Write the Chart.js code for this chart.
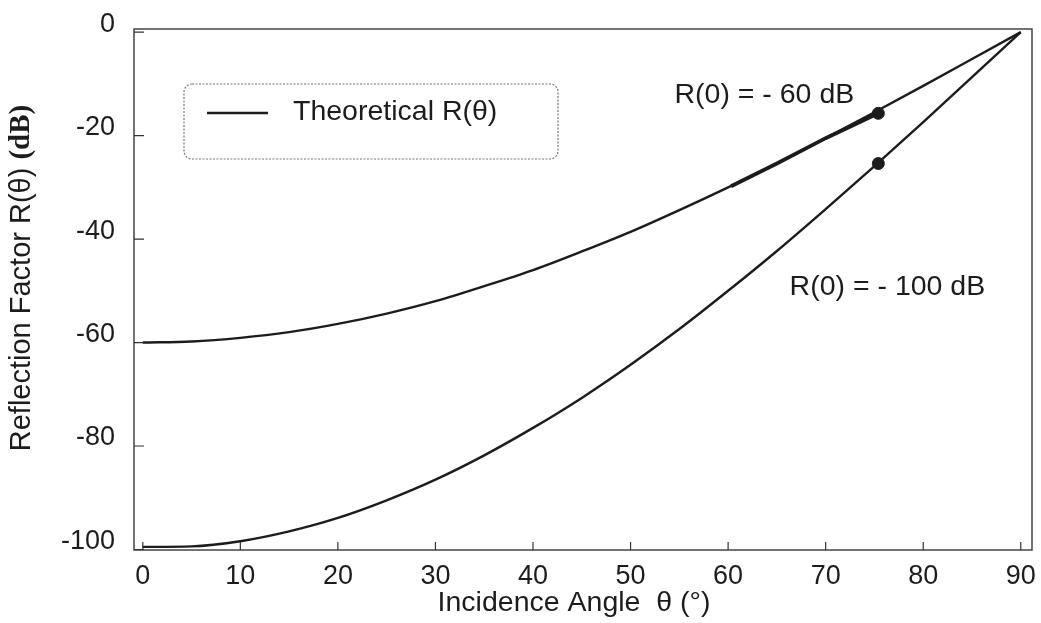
<!DOCTYPE html>
<html>
<head>
<meta charset="utf-8">
<script src="https://cdn.jsdelivr.net/npm/chart.js@4.4.0/dist/chart.umd.min.js"></script>
<style>
  body { margin: 0; background: #fff; }
  #wrap { width: 1041px; height: 623px; position: relative; }
</style>
</head>
<body>
<div id="wrap"><canvas id="reflChart"></canvas></div>
<script>
// ==========================================
// DATA
// ==========================================
const angles = [0, 5, 10, 15, 20, 25, 30, 35, 40, 45, 50, 55, 60, 65, 70, 75, 80, 85, 90];
const upperDb = [-60, -59.8, -59.1, -58.0, -56.4, -54.4, -52.0, -49.1, -46.0, -42.4, -38.6, -34.4, -30.0, -25.4, -20.5, -15.5, -10.4, -5.2, 0];
const lowerDb = [-99.5, -99.4, -98.4, -96.5, -93.9, -90.5, -86.5, -81.8, -76.5, -70.7, -64.3, -57.4, -50.0, -42.3, -34.2, -25.9, -17.4, -8.7, 0];

// thicker stretch on the -60 dB curve
const thickAngles = [60.3, 65, 70, 75.4];
const thickDb = [-29.8, -25.4, -20.5, -15.7];

// the two filled dots
const dotAngles = [75.4, 75.4];
const dotDb = [-15.7, -25.4];

const xTicks = [0, 10, 20, 30, 40, 50, 60, 70, 80, 90];
const yTicks = [0, -20, -40, -60, -80, -100];

const INK = '#1c1c1c';
const SANS = "'Liberation Sans', Arial, Helvetica, sans-serif";
const SERIF_BOLD = "bold 29px 'Liberation Serif', 'Times New Roman', serif";

const toPoints = (xs, ys) => xs.map((x, i) => ({ x: x, y: ys[i] }));

// ==========================================
// DECORATION PLUGIN (frame, inward ticks, legend, labels)
// ==========================================
const figurePlugin = {
    id: 'figure',
    afterDraw(chart) {
        const ctx = chart.ctx;
        const a = chart.chartArea;
        const xs = chart.scales.x;
        const ys = chart.scales.y;

        ctx.save();

        // frame
        ctx.strokeStyle = '#444';
        ctx.lineWidth = 1.5;
        ctx.strokeRect(a.left, a.top, a.right - a.left, a.bottom - a.top);

        // inward tick marks
        ctx.strokeStyle = '#333';
        ctx.lineWidth = 1.2;
        ctx.beginPath();
        xTicks.forEach(v => {
            const px = xs.getPixelForValue(v);
            ctx.moveTo(px, a.bottom);
            ctx.lineTo(px, a.bottom - 8);
        });
        yTicks.forEach(v => {
            const py = ys.getPixelForValue(v);
            ctx.moveTo(a.left, py);
            ctx.lineTo(a.left + 10, py);
        });
        ctx.stroke();

        // legend box
        const bx = 184, by = 84, bw = 374, bh = 75, r = 8;
        ctx.strokeStyle = '#777';
        ctx.lineWidth = 1.2;
        ctx.setLineDash([2, 1.5]);
        ctx.beginPath();
        ctx.roundRect(bx, by, bw, bh, r);
        ctx.stroke();
        ctx.setLineDash([]);

        ctx.strokeStyle = INK;
        ctx.lineWidth = 2.5;
        ctx.beginPath();
        ctx.moveTo(207, 113);
        ctx.lineTo(268, 113);
        ctx.stroke();

        ctx.fillStyle = INK;
        ctx.font = '28.5px ' + SANS;
        ctx.textAlign = 'left';
        ctx.textBaseline = 'middle';
        ctx.fillText('Theoretical R(\u03b8)', 293, 112);

        // curve annotations
        ctx.fillText('R(0) = - 60 dB', xs.getPixelForValue(54.5), ys.getPixelForValue(-12.2));
        ctx.fillText('R(0) = - 100 dB', xs.getPixelForValue(66.3), ys.getPixelForValue(-49.2));

        // x axis title
        ctx.textAlign = 'center';
        ctx.fillText('Incidence Angle  \u03b8 (\u00b0)', 574, 603);

        // y axis title (mixed fonts)
        ctx.translate(22, 278);
        ctx.rotate(-Math.PI / 2);
        const part1 = 'Reflection Factor R(\u03b8) ';
        const part2 = '(dB)';
        ctx.font = '29px ' + SANS;
        const w1 = ctx.measureText(part1).width;
        ctx.font = SERIF_BOLD;
        const w2 = ctx.measureText(part2).width;
        const start = -(w1 + w2) / 2;
        ctx.textAlign = 'left';
        ctx.font = '29px ' + SANS;
        ctx.fillText(part1, start, 0);
        ctx.font = SERIF_BOLD;
        ctx.fillText(part2, start + w1, 0);

        ctx.restore();
    }
};

// ==========================================
// CHART
// ==========================================
function initReflectionChart() {
    const canvas = document.getElementById('reflChart');
    if (!canvas) return;

    new Chart(canvas, {
        type: 'line',
        data: {
            datasets: [
                {
                    label: 'R(0) = -60 dB',
                    data: toPoints(angles, upperDb),
                    borderColor: INK,
                    borderWidth: 2.4,
                    pointRadius: 0,
                    cubicInterpolationMode: 'monotone',
                    fill: false
                },
                {
                    label: 'R(0) = -100 dB',
                    data: toPoints(angles, lowerDb),
                    borderColor: INK,
                    borderWidth: 2.4,
                    pointRadius: 0,
                    cubicInterpolationMode: 'monotone',
                    fill: false
                },
                {
                    label: 'thick',
                    data: toPoints(thickAngles, thickDb),
                    borderColor: INK,
                    borderWidth: 3.8,
                    pointRadius: 0,
                    fill: false
                },
                {
                    label: 'dots',
                    data: toPoints(dotAngles, dotDb),
                    showLine: false,
                    pointRadius: 6,
                    pointBackgroundColor: INK,
                    pointBorderColor: INK
                }
            ]
        },
        options: {
            responsive: true,
            maintainAspectRatio: false,
            animation: false,
            layout: {
                padding: { top: 29, right: 9, left: 0, bottom: 0 }
            },
            plugins: {
                legend: { display: false },
                tooltip: { enabled: false }
            },
            scales: {
                x: {
                    type: 'linear',
                    min: -0.9,
                    max: 91.15,
                    grid: { display: false, drawTicks: false },
                    border: { display: false },
                    afterBuildTicks: s => { s.ticks = xTicks.map(v => ({ value: v })); },
                    afterFit: s => {
                        s.height = 73;
                        s.paddingLeft = 0;
                        s.paddingRight = 0;
                    },
                    ticks: {
                        color: INK,
                        font: { family: SANS, size: 27 },
                        padding: 10,
                        maxRotation: 0,
                        autoSkip: false
                    }
                },
                y: {
                    type: 'linear',
                    min: -100.1,
                    max: 0.6,
                    grid: { display: false, drawTicks: false },
                    border: { display: false },
                    afterBuildTicks: s => { s.ticks = yTicks.map(v => ({ value: v })); },
                    afterFit: s => {
                        s.width = 134;
                        s.paddingTop = 0;
                        s.paddingBottom = 0;
                    },
                    ticks: {
                        color: INK,
                        font: { family: SANS, size: 27 },
                        padding: 19,
                        labelOffset: -8,
                        autoSkip: false
                    }
                }
            }
        },
        plugins: [figurePlugin]
    });
}

document.addEventListener('DOMContentLoaded', initReflectionChart);
</script>
</body>
</html>
